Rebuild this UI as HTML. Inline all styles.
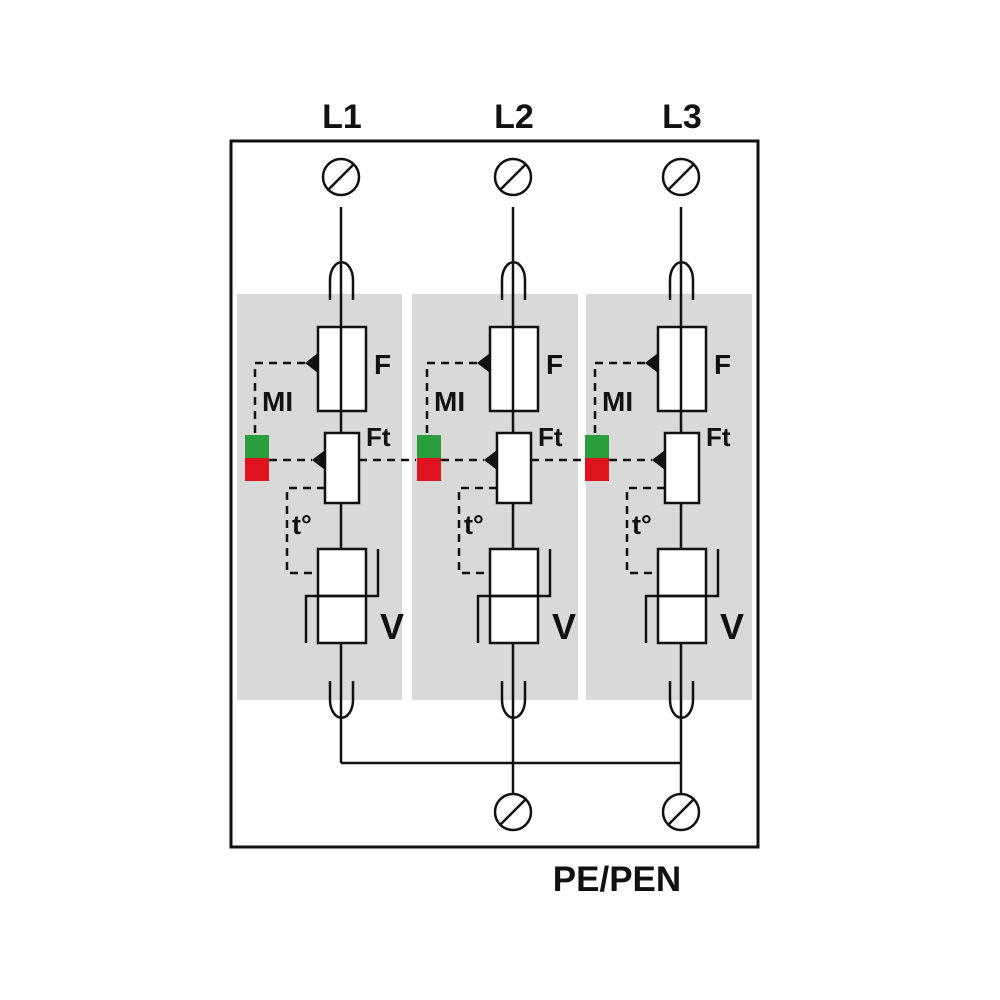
<!DOCTYPE html>
<html><head><meta charset="utf-8"><style>
html,body{margin:0;padding:0;background:#fff;}
svg{display:block;}
text{font-family:"Liberation Sans",Arial,sans-serif;font-weight:bold;fill:#111;}
</style></head><body>
<svg width="1000" height="1000" viewBox="0 0 1000 1000" xmlns="http://www.w3.org/2000/svg">
<rect x="0" y="0" width="1000" height="1000" fill="#fff"/>
<!-- gray panels -->
<rect x="237" y="294" width="165" height="406" fill="#d9d9d9"/>
<rect x="412" y="294" width="166" height="406" fill="#d9d9d9"/>
<rect x="586" y="294" width="166" height="406" fill="#d9d9d9"/>
<!-- outer box -->
<rect x="231" y="141" width="527" height="706" fill="none" stroke="#111" stroke-width="3"/>
<text x="342" y="128" font-size="34" text-anchor="middle">L1</text>
<text x="514" y="128" font-size="34" text-anchor="middle">L2</text>
<text x="682" y="128" font-size="34" text-anchor="middle">L3</text>
<text x="617" y="891" font-size="35" text-anchor="middle">PE/PEN</text>

<defs>
<g id="col">
  <circle cx="341" cy="177" r="18" fill="none" stroke="#111" stroke-width="2.5"/>
  <line x1="329" y1="189" x2="353" y2="165" stroke="#111" stroke-width="2.5"/>
  <line x1="341" y1="207" x2="341" y2="327" stroke="#111" stroke-width="2.5"/>
  <path d="M330 300 V280 A11 17 0 0 1 353 280 V300" fill="none" stroke="#111" stroke-width="2.5"/>
  <rect x="318" y="327" width="48" height="84" fill="#fff" stroke="#111" stroke-width="2.5"/>
  <line x1="341" y1="327" x2="341" y2="433" stroke="#111" stroke-width="2.5"/>
  <polygon points="318,353 318,373 305,363" fill="#111"/>
  <path d="M305 363 H255 V435" fill="none" stroke="#111" stroke-width="2.5" stroke-dasharray="8,6"/>
  <text x="262" y="411" font-size="28">MI</text>
  <text x="374" y="374" font-size="28">F</text>
  <rect x="245" y="435" width="24" height="23" fill="#2a9d3c"/>
  <rect x="245" y="458" width="24" height="23" fill="#e0141e"/>
  <rect x="325" y="433" width="34" height="70" fill="#fff" stroke="#111" stroke-width="2.5"/>
  <polygon points="325,450 325,470 312,460" fill="#111"/>
  <line x1="269" y1="460" x2="312" y2="460" stroke="#111" stroke-width="2.5" stroke-dasharray="8,6"/>
  <text x="366" y="446" font-size="26">Ft</text>
  <path d="M325 488 H287 V573 H314" fill="none" stroke="#111" stroke-width="2.5" stroke-dasharray="8,6"/>
  <text x="292" y="534" font-size="27">t°</text>
  <line x1="341" y1="503" x2="341" y2="549" stroke="#111" stroke-width="2.5"/>
  <rect x="318" y="549" width="48" height="94" fill="#fff" stroke="#111" stroke-width="2.5"/>
  <line x1="318" y1="596" x2="366" y2="596" stroke="#111" stroke-width="2.5"/>
  <path d="M378 549 V596 H306 V643" fill="none" stroke="#111" stroke-width="2.5"/>
  <text x="380" y="639" font-size="36">V</text>
  <line x1="341" y1="643" x2="341" y2="763" stroke="#111" stroke-width="2.5"/>
  <path d="M330 681 V700 A11 17 0 0 0 353 700 V681" fill="none" stroke="#111" stroke-width="2.5"/>
</g>
</defs>
<use href="#col"/>
<use href="#col" transform="translate(172,0)"/>
<use href="#col" transform="translate(340,0)"/>
<!-- dashed links between columns -->
<line x1="359" y1="460" x2="416" y2="460" stroke="#111" stroke-width="2.5" stroke-dasharray="8,6"/>
<line x1="531" y1="460" x2="586" y2="460" stroke="#111" stroke-width="2.5" stroke-dasharray="8,6"/>
<!-- bottom bus -->
<line x1="341" y1="763" x2="681" y2="763" stroke="#111" stroke-width="2.5"/>
<line x1="513" y1="763" x2="513" y2="794" stroke="#111" stroke-width="2.5"/>
<line x1="681" y1="763" x2="681" y2="794" stroke="#111" stroke-width="2.5"/>
<circle cx="513" cy="812" r="18" fill="none" stroke="#111" stroke-width="2.5"/>
<line x1="501" y1="824" x2="525" y2="800" stroke="#111" stroke-width="2.5"/>
<circle cx="681" cy="812" r="18" fill="none" stroke="#111" stroke-width="2.5"/>
<line x1="669" y1="824" x2="693" y2="800" stroke="#111" stroke-width="2.5"/>
</svg>
</body></html>
